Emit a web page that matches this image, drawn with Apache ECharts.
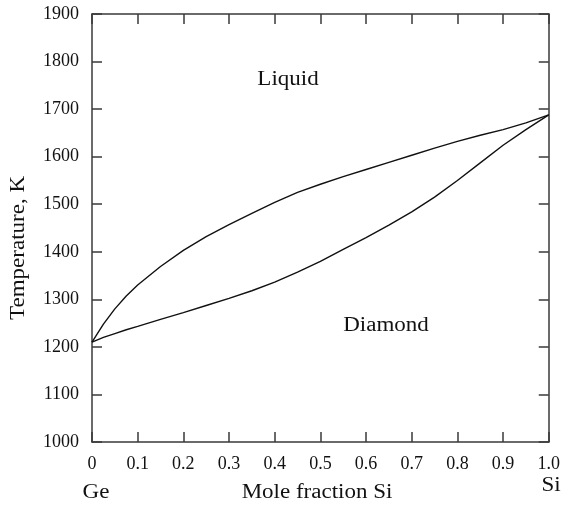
<!DOCTYPE html>
<html>
<head>
<meta charset="utf-8">
<script src="https://cdn.jsdelivr.net/npm/echarts@6/dist/echarts.min.js"></script>
<style>
  html, body { margin: 0; padding: 0; background: #fff; }
  #chart { width: 563px; height: 506px; }
</style>
</head>
<body>
<div id="chart"></div>
<script>
// Ge–Si binary phase diagram: liquidus and solidus curves
const moleFractionSi = [0, 0.025, 0.05, 0.075, 0.1, 0.15, 0.2, 0.25, 0.3, 0.35, 0.4, 0.45,
  0.5, 0.55, 0.6, 0.65, 0.7, 0.75, 0.8, 0.85, 0.9, 0.95, 1.0];
const liquidusK = [1210, 1248, 1280, 1307, 1330, 1369, 1403, 1432, 1457, 1481, 1504, 1525,
  1542, 1558, 1573, 1588, 1603, 1618, 1632, 1645, 1657, 1671, 1688];
const solidusK = [1210, 1220, 1228, 1236, 1243, 1258, 1272, 1287, 1302, 1318, 1336, 1357,
  1380, 1405, 1430, 1456, 1484, 1515, 1550, 1587, 1624, 1657, 1688];
const xTickLabels = ['0', '0.1', '0.2', '0.3', '0.4', '0.5', '0.6', '0.7', '0.8', '0.9', '1.0'];
const yTicks = [1000, 1100, 1200, 1300, 1400, 1500, 1600, 1700, 1800, 1900];

const FONT = '"Liberation Serif", "Times New Roman", serif';
const AXIS_COLOR = '#3a3a3a';

const pairs = (xs, ys) => xs.map((x, i) => [x, ys[i]]);

const axisLine = { show: true, onZero: false, lineStyle: { color: AXIS_COLOR, width: 1.5 } };
const axisTick = { show: true, inside: true, length: 10, lineStyle: { color: AXIS_COLOR, width: 1.5 } };

const chart = echarts.init(document.getElementById('chart'), null, { renderer: 'canvas' });

chart.setOption({
  animation: false,
  backgroundColor: '#fff',
  grid: { left: 92, right: 10, top: 14, bottom: 64, containLabel: false },
  xAxis: [
    {
      type: 'value', position: 'bottom', min: 0, max: 1, interval: 0.1,
      axisLine, axisTick, splitLine: { show: false },
      axisLabel: {
        color: '#111', fontFamily: FONT, fontSize: 18, margin: 13,
        formatter: (v) => xTickLabels[Math.round(v * 10)]
      }
    },
    {
      type: 'value', position: 'top', min: 0, max: 1, interval: 0.1,
      axisLine, axisTick, splitLine: { show: false }, axisLabel: { show: false }
    }
  ],
  yAxis: [
    {
      type: 'value', position: 'left', min: yTicks[0], max: yTicks[yTicks.length - 1], interval: 100,
      axisLine, axisTick, splitLine: { show: false },
      axisLabel: {
        color: '#111', fontFamily: FONT, fontSize: 18, margin: 13,
        formatter: (v) => String(v)
      }
    },
    {
      type: 'value', position: 'right', min: yTicks[0], max: yTicks[yTicks.length - 1], interval: 100,
      axisLine, axisTick, splitLine: { show: false }, axisLabel: { show: false }
    }
  ],
  series: [
    {
      name: 'Liquidus', type: 'line', data: pairs(moleFractionSi, liquidusK),
      showSymbol: false, smooth: false,
      lineStyle: { color: '#111', width: 1.4 }
    },
    {
      name: 'Solidus', type: 'line', data: pairs(moleFractionSi, solidusK),
      showSymbol: false, smooth: false,
      lineStyle: { color: '#111', width: 1.4 }
    }
  ],
  graphic: [
    { type: 'text', x: 288, y: 80, scaleX: 1.15,
      style: { text: 'Liquid', font: '20px ' + FONT, fill: '#111', align: 'center', verticalAlign: 'middle' } },
    { type: 'text', x: 386, y: 326, scaleX: 1.15,
      style: { text: 'Diamond', font: '20px ' + FONT, fill: '#111', align: 'center', verticalAlign: 'middle' } },
    { type: 'text', x: 96, y: 493, scaleX: 1.15,
      style: { text: 'Ge', font: '20px ' + FONT, fill: '#111', align: 'center', verticalAlign: 'middle' } },
    { type: 'text', x: 551, y: 486, scaleX: 1.15,
      style: { text: 'Si', font: '20px ' + FONT, fill: '#111', align: 'center', verticalAlign: 'middle' } },
    { type: 'text', x: 317, y: 493, scaleX: 1.15,
      style: { text: 'Mole fraction Si', font: '20px ' + FONT, fill: '#111', align: 'center', verticalAlign: 'middle' } },
    { type: 'text', x: 19, y: 248, rotation: Math.PI / 2, scaleX: 1.15,
      style: { text: 'Temperature, K', font: '20px ' + FONT, fill: '#111', align: 'center', verticalAlign: 'middle' } }
  ]
});
</script>
</body>
</html>
